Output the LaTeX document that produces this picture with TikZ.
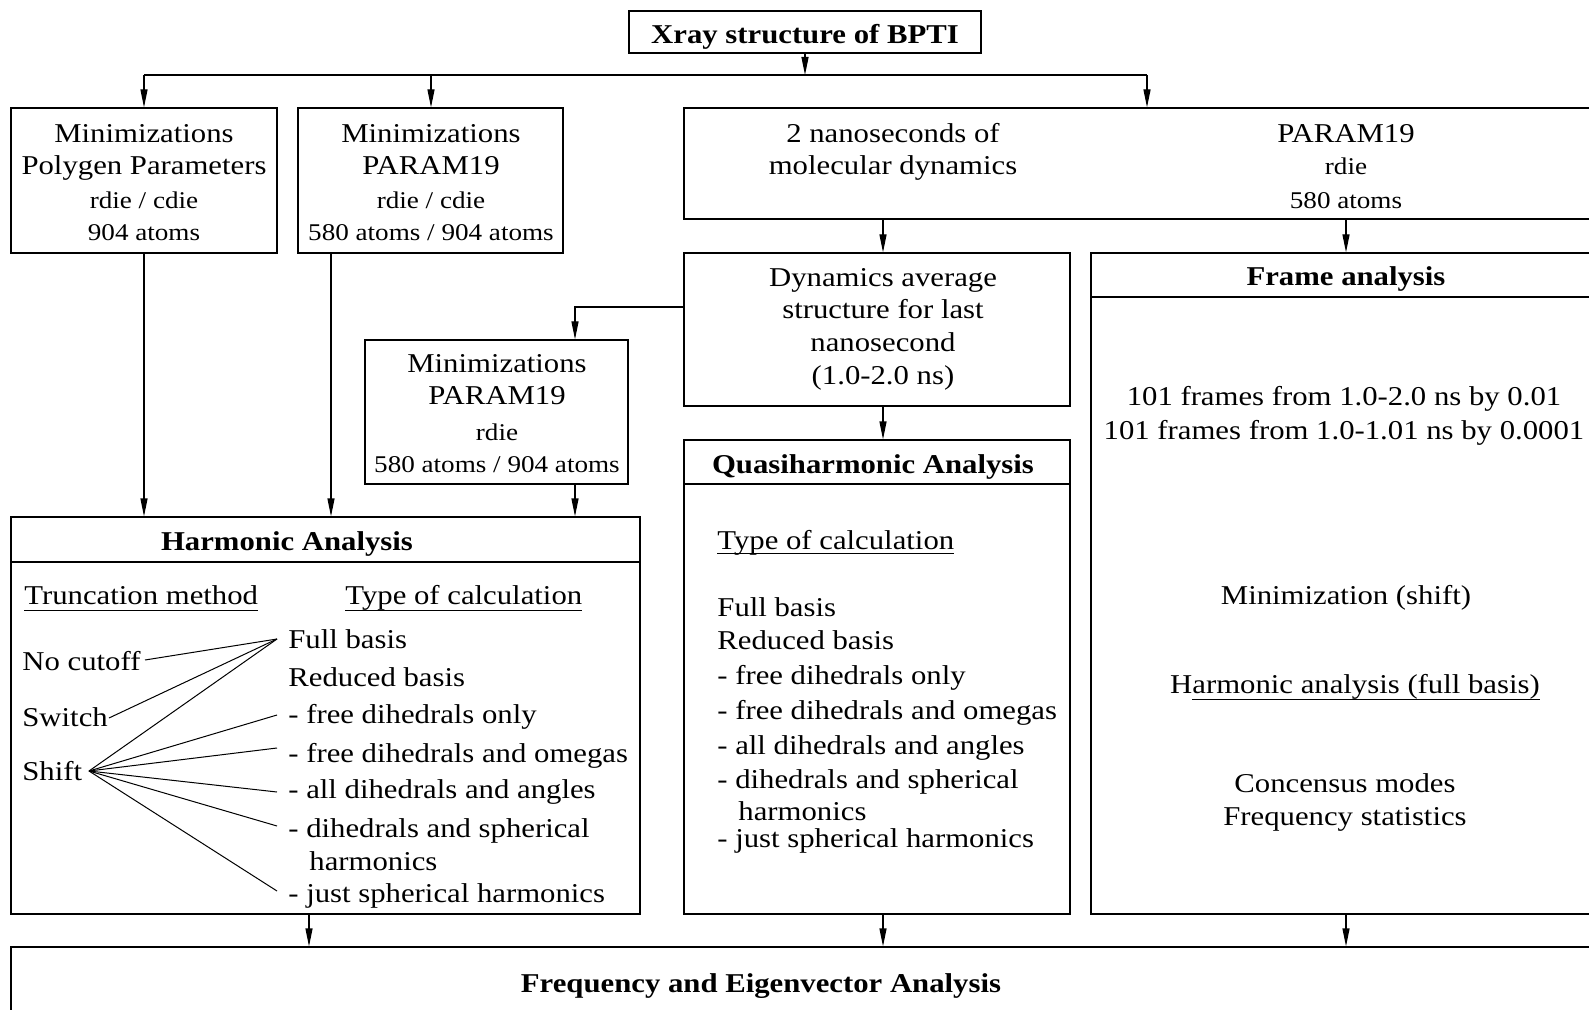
\documentclass[tikz,border=0pt]{standalone}
\usepackage{fontspec}
\setmainfont{Liberation Serif}[FakeStretch=1.13]
\usetikzlibrary{arrows.meta,fit,calc}
\newcommand\myul[2]{\underline{\smash{#2}\rule[-#1]{0pt}{#1}}}
\begin{document}
\begin{tikzpicture}[x=0.5pt,y=-0.5pt,
  box/.style={draw, line width=0.6pt, inner sep=0pt},
  big/.style={inner sep=0pt, anchor=base, font=\fontsize{13.6}{16}\selectfont},
  small/.style={inner sep=0pt, anchor=base, font=\fontsize{12}{14}\selectfont},
  bigb/.style={inner sep=0pt, anchor=base, font=\fontsize{13.6}{16}\selectfont\bfseries},
  lft/.style={anchor=base west},
  arr/.style={line width=0.6pt, -{Triangle[length=9pt,width=3.5pt]}},
  ln/.style={line width=0.6pt},
  fan/.style={line width=0.5pt}]
\useasboundingbox (0,0) rectangle (1589,1010);
\clip (0,0) rectangle (1589,1010);

% boxes
\node[box, fit={(629,11) (981,53)}] (top) {};
\node[box, fit={(11,108) (277,253)}] (A) {};
\node[box, fit={(298,108) (563,253)}] (B) {};
\node[box, fit={(684,108) (1600,219)}] (MD) {};
\node[box, fit={(684,253) (1070,406)}] (Dyn) {};
\node[box, fit={(1091,253) (1600,914)}] (Frame) {};
\node[box, fit={(365,340) (628,484)}] (C) {};
\node[box, fit={(11,517) (640,914)}] (Harm) {};
\node[box, fit={(684,440) (1070,914)}] (Quasi) {};
\node[box, fit={(11,947) (1600,1030)}] (Bot) {};

% header separators
\draw[ln] (11,562) -- (640,562);
\draw[ln] (684,484) -- (1070,484);
\draw[ln] (1091,297) -- (1600,297);

% connectors
\coordinate (hl) at (144,75);
\coordinate (hr) at (1147,75);
\coordinate (xB) at (431,0);
\coordinate (xD) at (883,0);
\coordinate (xF) at (1346,0);
\coordinate (yDC) at (0,307);
\coordinate (xC) at (575,0);
\coordinate (xB2) at (331,0);
\coordinate (xH) at (309,0);
\draw[arr] (top.south) -- (top.south |- hl);
\draw[ln] (hl) -- (hr);
\draw[arr] (hl) -- (A.north);
\draw[arr] (xB |- hl) -- (xB |- B.north);
\draw[arr] (hr) -- (hr |- MD.north);
\draw[arr] (xD |- MD.south) -- (xD |- Dyn.north);
\draw[arr] (xF |- MD.south) -- (xF |- Frame.north);
\draw[arr] (Dyn.west |- yDC) -| (xC |- C.north);
\draw[arr] (xC |- C.south) -- (xC |- Harm.north);
\draw[arr] (A.south) -- (A.south |- Harm.north);
\draw[arr] (xB2 |- B.south) -- (xB2 |- Harm.north);
\draw[arr] (xD |- Dyn.south) -- (xD |- Quasi.north);
\draw[arr] (xH |- Harm.south) -- (xH |- Bot.north);
\draw[arr] (xD |- Quasi.south) -- (xD |- Bot.north);
\draw[arr] (xF |- Frame.south) -- (xF |- Bot.north);

% texts
\node[bigb] (t0) at (805,44) {Xray structure of BPTI};

\node[big] (a1) at (144,143) {Minimizations};
\node[big] (a2) at (144,175) {Polygen Parameters};
\node[small] (a3) at (144,209) {rdie / cdie};
\node[small] (a4) at (144,241) {904 atoms};

\node[big] (b1) at (431,143) {Minimizations};
\node[big] (b2) at (431,175) {PARAM19};
\node[small] (b3) at (431,209) {rdie / cdie};
\node[small] (b4) at (431,241) {580 atoms / 904 atoms};

\node[big] (m1) at (893,143) {2 nanoseconds of};
\node[big] (m2) at (893,175) {molecular dynamics};
\node[big] (m3) at (1346,143) {PARAM19};
\node[small] (m4) at (1346,175) {rdie};
\node[small] (m5) at (1346,209) {580 atoms};

\node[big] (d1) at (883,287) {Dynamics average};
\node[big] (d2) at (883,319) {structure for last};
\node[big] (d3) at (883,352) {nanosecond};
\node[big] (d4) at (883,385) {(1.0-2.0 ns)};

\node[bigb] (f0) at (1346,286) {Frame analysis};
\node[big] (f1) at (1344,406) {101 frames from 1.0-2.0 ns by 0.01};
\node[big] (f2) at (1344,439) {101 frames from 1.0-1.01 ns by 0.0001};
\node[big] (f3) at (1346,604) {Minimization (shift)};
\node[big] (f4) at (1355,693) {H\myul{1.6pt}{armonic analysis (full basis)}};
\node[big] (f5) at (1345,792) {Concensus modes};
\node[big] (f6) at (1345,825) {Frequency statistics};

\node[big] (c1) at (497,372) {Minimizations};
\node[big] (c2) at (497,405) {PARAM19};
\node[small] (c3) at (497,440) {rdie};
\node[small] (c4) at (497,472) {580 atoms / 904 atoms};

\node[bigb] (h0) at (287,550) {Harmonic Analysis};
\node[big, lft] (h1) at (24,604) {\myul{2pt}{Truncation method}};
\node[big, lft] (h2) at (345,604) {\myul{2pt}{Type of calculation}};
\node[big, lft] (h3) at (22,670) {No cutoff};
\node[big, lft] (h4) at (22,726) {Switch};
\node[big, lft] (h5) at (22,780) {Shift};
\node[big, lft] (h6) at (288,648) {Full basis};
\node[big, lft] (h7) at (288,686) {Reduced basis};
\node[big, lft] (h8) at (288,723) {- free dihedrals only};
\node[big, lft] (h9) at (288,762) {- free dihedrals and omegas};
\node[big, lft] (h10) at (288,798) {- all dihedrals and angles};
\node[big, lft] (h11) at (288,837) {- dihedrals and spherical};
\node[big, lft] (h12) at (309,870) {harmonics};
\node[big, lft] (h13) at (288,902) {- just spherical harmonics};

\node[bigb] (q0) at (873,473) {Quasiharmonic Analysis};
\node[big, lft] (q1) at (717,549) {\myul{0.6pt}{Type of calculation}};
\node[big, lft] (q2) at (717,616) {Full basis};
\node[big, lft] (q3) at (717,649) {Reduced basis};
\node[big, lft] (q4) at (717,684) {- free dihedrals only};
\node[big, lft] (q5) at (717,719) {- free dihedrals and omegas};
\node[big, lft] (q6) at (717,754) {- all dihedrals and angles};
\node[big, lft] (q7) at (717,788) {- dihedrals and spherical};
\node[big, lft] (q8) at (738,820) {harmonics};
\node[big, lft] (q9) at (717,847) {- just spherical harmonics};

\node[bigb] (e0) at (761,992) {Frequency and Eigenvector Analysis};

% fan lines in harmonic box
\coordinate (pFB) at (277,639);
\coordinate (pNC) at (145,660);
\coordinate (pSW) at (109,718);
\coordinate (pSH) at (89,771);
\coordinate (pD1) at (277,715);
\coordinate (pD2) at (277,748);
\coordinate (pD3) at (277,792);
\coordinate (pD4) at (277,826);
\coordinate (pD5) at (277,891);
\draw[fan] (pNC) -- (pFB);
\draw[fan] (pSW) -- (pFB);
\draw[fan] (pSH) -- (pFB);
\draw[fan] (pSH) -- (pD1);
\draw[fan] (pSH) -- (pD2);
\draw[fan] (pSH) -- (pD3);
\draw[fan] (pSH) -- (pD4);
\draw[fan] (pSH) -- (pD5);
\end{tikzpicture}
\end{document}
